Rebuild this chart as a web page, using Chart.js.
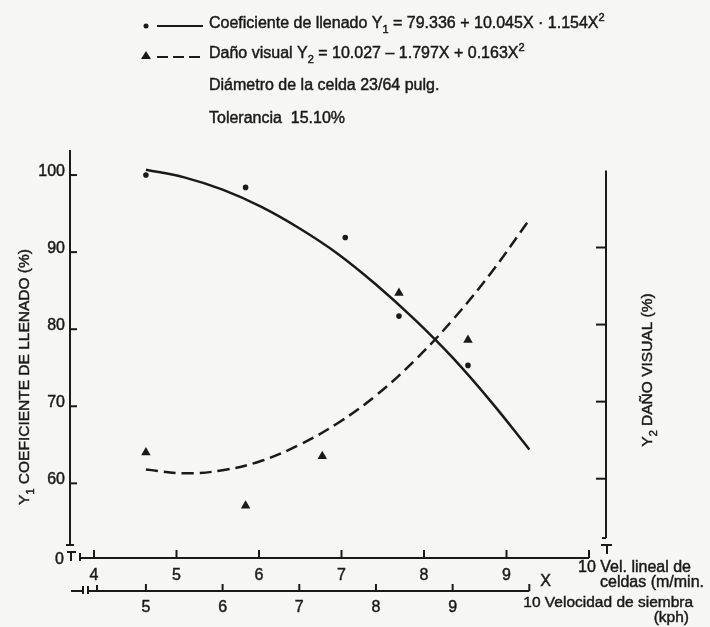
<!DOCTYPE html>
<html>
<head>
<meta charset="utf-8">
<script src="https://cdn.jsdelivr.net/npm/chart.js@4.4.1/dist/chart.umd.min.js"></script>
<style>
    html, body { margin: 0; padding: 0; background: #f6f6f4; }
    #wrap { width: 710px; height: 627px; }
</style>
</head>
<body>
<div id="wrap"><canvas id="chart" width="710" height="627"></canvas></div>
<script>
// Observed points, x in kph (Velocidad de siembra)
const llenadoX = [5.0, 6.3, 7.6, 8.3, 9.2];
const llenadoObs = [100.0, 98.4, 91.9, 81.7, 75.3];
const danoX = [5.0, 6.3, 7.3, 8.3, 9.2];
const danoObs = [5.34, 4.65, 5.29, 7.41, 6.80];

// Fitted curves
const curveX = [5, 5.5, 6, 6.5, 7, 7.5, 8, 8.5, 9, 9.5, 10];
const llenadoCurve = [100.7, 99.7, 98.1, 95.9, 93.1, 89.8, 85.8, 81.3, 76.3, 70.6, 64.4];
const danoCurve = [5.12, 5.07, 5.11, 5.23, 5.44, 5.72, 6.08, 6.53, 7.06, 7.67, 8.36];

// Tick labels
const leftTicks = [60, 70, 80, 90, 100];
const rightTicks = [5, 6, 7, 8];
const velTicks = [4, 5, 6, 7, 8, 9];
const kphTicks = [5, 6, 7, 8, 9];

const ink = '#1a1a1a';
const FONT = '"Liberation Sans", Arial, sans-serif';

const pairs = (xs, ys) => xs.map((v, i) => ({ x: v, y: ys[i] }));

// Draw text made of pieces, some of them sub- or superscript
function drawRich(ctx, parts, x, y, size, align) {
    const small = Math.round(size * 0.68);
    let w = 0;
    parts.forEach(p => {
        ctx.font = (p[1] ? small : size) + 'px ' + FONT;
        w += ctx.measureText(p[0]).width;
    });
    let cx = align === 'center' ? x - w / 2 : align === 'right' ? x - w : x;
    ctx.textAlign = 'left';
    ctx.textBaseline = 'alphabetic';
    ctx.lineWidth = 0.45;
    parts.forEach(p => {
        ctx.font = (p[1] ? small : size) + 'px ' + FONT;
        const dy = p[1] === 'sub' ? size * 0.3 : p[1] === 'sup' ? -size * 0.42 : 0;
        ctx.fillText(p[0], cx, y + dy);
        ctx.strokeText(p[0], cx, y + dy); // scan-like heavier ink
        cx += ctx.measureText(p[0]).width;
    });
    ctx.lineWidth = 2;
}

function seg(ctx, x1, y1, x2, y2) {
    ctx.beginPath();
    ctx.moveTo(x1, y1);
    ctx.lineTo(x2, y2);
    ctx.stroke();
}

const decorPlugin = {
    id: 'decor',
    beforeDraw(chart) {
        const ctx = chart.ctx;
        ctx.save();
        ctx.fillStyle = '#f6f6f4';
        ctx.fillRect(0, 0, chart.width, chart.height);
        ctx.restore();
    },
    afterDraw(chart) {
        const { ctx, chartArea, scales } = chart;
        const x = scales.x, xv = scales.xv, y = scales.y, y2 = scales.y2;
        ctx.save();
        ctx.strokeStyle = ink;
        ctx.fillStyle = ink;
        ctx.lineWidth = 2;

        // left axis
        const lx = chartArea.left;
        seg(ctx, lx, chartArea.top, lx, chartArea.bottom);
        seg(ctx, lx - 4, chartArea.bottom, lx + 4, chartArea.bottom);
        leftTicks.forEach(v => {
            const py = y.getPixelForValue(v);
            seg(ctx, lx, py, lx + 7, py);
            drawRich(ctx, [[String(v)]], lx - 5, py + 1, 16, 'right');
        });
        drawRich(ctx, [['0']], lx - 6, 564, 16, 'right');
        seg(ctx, lx - 3, 552, lx + 6, 552);
        seg(ctx, lx + 1, 552, lx + 1, 561);

        // right axis (Y2)
        const rx = chartArea.right;
        seg(ctx, rx, y2.getPixelForValue(9.0), rx, y2.getPixelForValue(4.23));
        seg(ctx, rx - 4, y2.getPixelForValue(4.23), rx, y2.getPixelForValue(4.23));
        rightTicks.forEach(v => {
            const py = y2.getPixelForValue(v);
            seg(ctx, rx - 10, py, rx, py);
        });
        seg(ctx, rx - 5, 545, rx + 6, 545);
        seg(ctx, rx + 1, 545, rx + 1, 554);

        // Vel. lineal axis
        const vy = 558;
        seg(ctx, 80, vy, xv.getPixelForValue(10), vy);
        seg(ctx, 80, vy - 5, 80, vy + 3);
        velTicks.concat([10]).forEach(v => {
            const px = xv.getPixelForValue(v);
            seg(ctx, px, vy - 8, px, vy);
        });
        velTicks.forEach(v => {
            drawRich(ctx, [[String(v)]], xv.getPixelForValue(v), 580, 16, 'center');
        });
        drawRich(ctx, [['10 Vel. lineal de']], xv.getPixelForValue(10) - 11, 572, 16, 'left');
        drawRich(ctx, [['celdas (m/min.']], 704, 587, 16, 'right');

        // Velocidad de siembra axis
        const ky = 591;
        seg(ctx, 71, ky, 83, ky);
        seg(ctx, 83, ky - 5, 83, ky + 3);
        seg(ctx, 88, ky - 5, 88, ky + 3);
        seg(ctx, 88, ky, x.getPixelForValue(10), ky);
        seg(ctx, 97, ky - 6, 97, ky);
        kphTicks.concat([10]).forEach(v => {
            const px = x.getPixelForValue(v);
            seg(ctx, px, ky - 7, px, ky);
        });
        kphTicks.forEach(v => {
            drawRich(ctx, [[String(v)]], x.getPixelForValue(v), 612, 16, 'center');
        });
        drawRich(ctx, [['X']], x.getPixelForValue(10) + 11, 586, 16, 'left');
        drawRich(ctx, [['10 Velocidad de siembra']], x.getPixelForValue(10) - 6, 607, 15.5, 'left');
        drawRich(ctx, [['(kph)']], 689, 622, 15.5, 'right');

        // axis titles
        ctx.save();
        ctx.translate(29, 377);
        ctx.rotate(-Math.PI / 2);
        drawRich(ctx, [['Y'], ['1', 'sub'], [' COEFICIENTE DE LLENADO (%)']], 0, 0, 15.5, 'center');
        ctx.restore();
        ctx.save();
        ctx.translate(652, 370);
        ctx.rotate(-Math.PI / 2);
        drawRich(ctx, [['Y'], ['2', 'sub'], [' DAÑO VISUAL (%)']], 0, 0, 15.5, 'center');
        ctx.restore();

        // legend / notes
        ctx.beginPath();
        ctx.arc(146, 26, 2.5, 0, Math.PI * 2);
        ctx.fill();
        seg(ctx, 157, 26, 203, 26);
        drawRich(ctx, [['Coeficiente de llenado Y'], ['1', 'sub'], [' = 79.336 + 10.045X · 1.154X'], ['2', 'sup']], 209, 28, 16, 'left');

        ctx.beginPath();
        ctx.moveTo(146, 51);
        ctx.lineTo(151, 59);
        ctx.lineTo(141, 59);
        ctx.closePath();
        ctx.fill();
        ctx.setLineDash([11, 5]);
        seg(ctx, 157, 57, 203, 57);
        ctx.setLineDash([]);
        drawRich(ctx, [['Daño visual Y'], ['2', 'sub'], [' = 10.027 – 1.797X + 0.163X'], ['2', 'sup']], 209, 58, 16, 'left');

        drawRich(ctx, [['Diámetro de la celda 23/64 pulg.']], 209, 90, 16, 'left');
        drawRich(ctx, [['Tolerancia  15.10%']], 209, 123, 16, 'left');

        ctx.restore();
    }
};

const chart = new Chart(document.getElementById('chart').getContext('2d'), {
    type: 'scatter',
    data: {
        datasets: [
            {
                label: 'Coeficiente de llenado (ajuste)',
                data: pairs(curveX, llenadoCurve),
                showLine: true,
                borderColor: ink,
                borderWidth: 2.5,
                pointRadius: 0,
                tension: 0.4,
                xAxisID: 'x',
                yAxisID: 'y'
            },
            {
                label: 'Daño visual (ajuste)',
                data: pairs(curveX, danoCurve),
                showLine: true,
                borderColor: ink,
                borderWidth: 2.5,
                borderDash: [12, 6],
                pointRadius: 0,
                tension: 0.4,
                xAxisID: 'x',
                yAxisID: 'y2'
            },
            {
                label: 'Coeficiente de llenado',
                data: pairs(llenadoX, llenadoObs),
                pointStyle: 'circle',
                pointRadius: 2.8,
                backgroundColor: ink,
                borderColor: ink,
                borderWidth: 0,
                xAxisID: 'x',
                yAxisID: 'y'
            },
            {
                label: 'Daño visual',
                data: pairs(danoX, danoObs),
                pointStyle: 'triangle',
                pointRadius: 5.5,
                backgroundColor: ink,
                borderColor: ink,
                borderWidth: 0,
                xAxisID: 'x',
                yAxisID: 'y2'
            }
        ]
    },
    options: {
        responsive: false,
        animation: false,
        devicePixelRatio: 1,
        layout: { padding: { left: 70, right: 104, top: 150, bottom: 82 } },
        plugins: {
            legend: { display: false },
            tooltip: { enabled: false }
        },
        scales: {
            x: { type: 'linear', display: false, min: 4.01, max: 11.0 },
            xv: { type: 'linear', axis: 'x', display: false, min: 3.709, max: 10.206 },
            y: { type: 'linear', display: false, min: 52, max: 103.25 },
            y2: { type: 'linear', display: false, min: 4.14, max: 9.265 }
        }
    },
    plugins: [decorPlugin]
});
</script>
</body>
</html>
